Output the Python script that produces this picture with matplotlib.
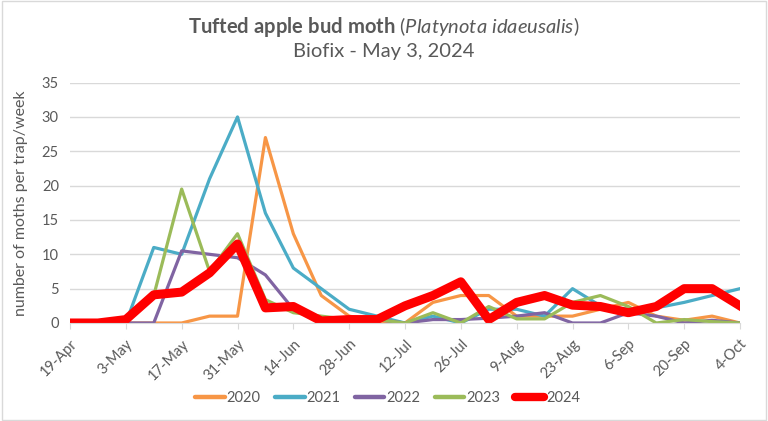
import matplotlib.pyplot as plt
from matplotlib.patches import Rectangle

# weekly trap dates
dates = ['19-Apr', '26-Apr', '3-May', '10-May', '17-May', '24-May', '31-May',
         '7-Jun', '14-Jun', '21-Jun', '28-Jun', '5-Jul', '12-Jul', '19-Jul',
         '26-Jul', '2-Aug', '9-Aug', '16-Aug', '23-Aug', '30-Aug', '6-Sep',
         '13-Sep', '20-Sep', '27-Sep', '4-Oct']

y2020 = [0, 0, 0, 0, 0, 1, 1, 27, 13, 4, 1, 0.3, 0, 3, 4, 4, 1, 1, 1, 2, 3, 1, 0.4, 1, 0]
y2021 = [0, 0, 0, 11, 10, 21, 30, 16, 8, 5, 2, 1, 0, 1, 0, 2, 2, 1, 5, 2.5, 2, 2.2, 3, 4, 5]
y2022 = [0, 0, 0, 0, 10.5, 10, 9.5, 7, 2, 0.5, 0.5, 0.5, 0, 0.5, 0.5, 0.7, 1, 1.5, 0, 0, 1.5, 1, 0, 0.4, 0]
y2023 = [0, 0, 0, 4, 19.5, 7.5, 13, 3.4, 1.5, 1, 0.5, 0.5, 0, 1.5, 0, 2.4, 0.6, 0.6, 3, 4, 2.4, 0, 0.5, 0.2, 0]
y2024 = [0, 0, 0.5, 4.1, 4.5, 7.3, 11.5, 2.2, 2.4, 0.3, 0.5, 0.5, 2.5, 4, 6, 0.5, 3, 4, 2.6, 2.4, 1.5, 2.4, 5, 5, 2.5]

series = [('2020', y2020, '#F79646', 2.3),
          ('2021', y2021, '#4BACC6', 2.3),
          ('2022', y2022, '#8064A2', 2.3),
          ('2023', y2023, '#9BBB59', 2.3),
          ('2024', y2024, '#FF0000', 6.5)]

plt.rcParams['font.family'] = ['Lato', 'DejaVu Sans']
plt.rcParams['mathtext.fontset'] = 'custom'
plt.rcParams['mathtext.rm'] = 'Lato'
plt.rcParams['mathtext.it'] = 'Lato:italic'
plt.rcParams['mathtext.bf'] = 'Lato:bold'
grey = '#595959'

fig = plt.figure(figsize=(7.68, 4.21), dpi=100)
ax = fig.add_axes([70 / 768, 1 - 323 / 421, 670 / 768, (323 - 82.6) / 421])

x = list(range(len(dates)))
for name, vals, color, lw in series:
    ax.plot(x, vals, color=color, lw=lw, label=name, solid_joinstyle='round')

ax.set_xlim(0, len(dates) - 1)
ax.set_ylim(0, 35)
ax.set_yticks(range(0, 36, 5))
ax.set_xticks(x[::2])
ax.set_xticklabels(dates[::2], rotation=45, ha='right', va='top',
                   rotation_mode='anchor', fontsize=10.5, color=grey)
ax.tick_params(axis='y', length=0, labelsize=10.5, labelcolor=grey, pad=8)
ax.tick_params(axis='x', length=4, color='#D9D9D9', pad=6)
ax.grid(axis='y', color='#D9D9D9', lw=1)
ax.set_axisbelow(True)
for s in ['top', 'right', 'left']:
    ax.spines[s].set_visible(False)
ax.spines['bottom'].set_color('#D9D9D9')

ax.set_ylabel('number of moths per trap/week', fontsize=11.5, color=grey, labelpad=10)

fig.text(0.5, 1 - 27 / 421,
         r'$\mathbf{Tufted\ apple\ bud\ moth}$ ($\mathit{Platynota\ idaeusalis}$)',
         ha='center', va='center', fontsize=14.5, color=grey)
fig.text(0.5, 1 - 52 / 421, 'Biofix - May 3, 2024', ha='center', va='center',
         fontsize=14.5, color=grey)

leg = ax.legend(loc='center', bbox_to_anchor=(388 / 768, 1 - 398 / 421),
                bbox_transform=fig.transFigure, ncol=5, frameon=False,
                fontsize=10.5, handlelength=2.0, handletextpad=0.15,
                columnspacing=1.0)
for t in leg.get_texts():
    t.set_color(grey)
for h in leg.legend_handles[:4]:
    h.set_linewidth(3.2)
    h.set_solid_capstyle('round')
leg.legend_handles[4].set_linewidth(6)
leg.legend_handles[4].set_solid_capstyle('round')

fig.patches.append(Rectangle((0.002, 0.003), 0.996, 0.994, transform=fig.transFigure,
                             fill=False, edgecolor='#D9D9D9', lw=1))

fig.savefig('out.png', dpi=100)
